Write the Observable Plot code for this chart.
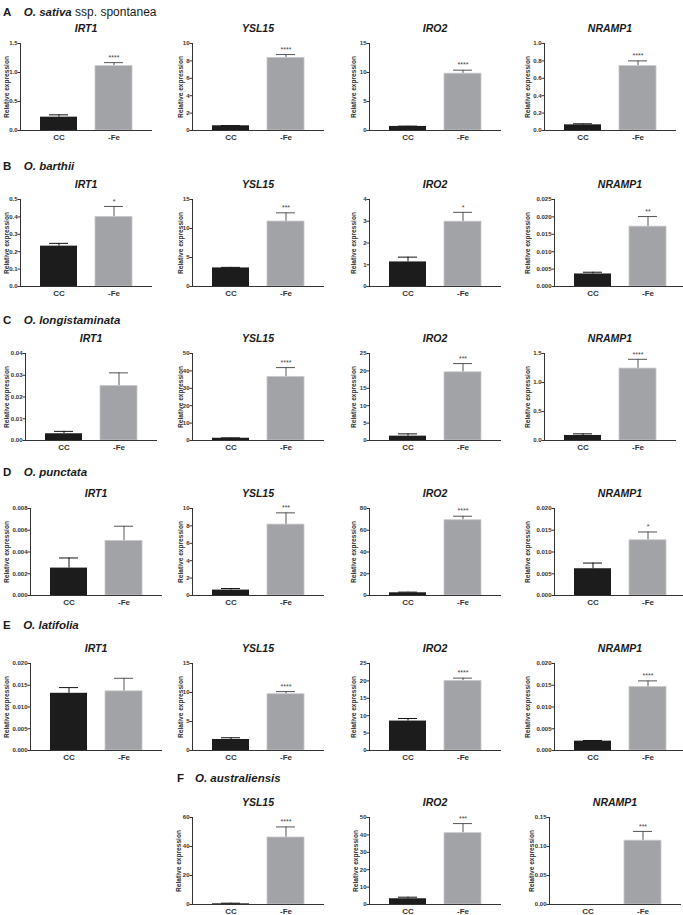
<!DOCTYPE html>
<html><head><meta charset="utf-8">
<script src="https://cdn.jsdelivr.net/npm/d3@7"></script>
<script src="https://cdn.jsdelivr.net/npm/@observablehq/plot@0.6"></script>
<style>
body{margin:0;background:#fff;}
#fig{position:relative;width:683px;height:915px;font-family:"Liberation Sans",Arial,sans-serif;color:#222;overflow:hidden;background:#fff}
.abs{position:absolute;white-space:nowrap}
</style></head><body><div id="fig"></div>
<script>
// ---------- DATA ----------
const rowLetters = ["A","B","C","D","E","F"];
const speciesNames = ["O. sativa","O. barthii","O. longistaminata","O. punctata","O. latifolia","O. australiensis"];
const speciesSuffix = [" ssp. spontanea","","","","",""];
const groups = ["CC","-Fe"];
const yLabel = "Relative expression";
const panelRow = [0,0,0,0, 1,1,1,1, 2,2,2,2, 3,3,3,3, 4,4,4,4, 5,5,5];
const panelCol = [0,1,2,3, 0,1,2,3, 0,1,2,3, 0,1,2,3, 0,1,2,3, 1,2,3];
const genes = ["IRT1","YSL15","IRO2","NRAMP1","IRT1","YSL15","IRO2","NRAMP1","IRT1","YSL15","IRO2","NRAMP1",
               "IRT1","YSL15","IRO2","NRAMP1","IRT1","YSL15","IRO2","NRAMP1","YSL15","IRO2","NRAMP1"];
const ccMean = [0.23,0.54,0.7,0.065, 0.232,3.2,1.13,0.0036, 0.0031,1.3,1.25,0.087, 0.00252,0.62,2.5,0.00615, 0.01315,1.9,8.46,0.00215, 0.46,3.3,0];
const ccErr  = [0.04,0.03,0.05,0.012, 0.016,0.1,0.22,0.0005, 0.0011,0.2,0.65,0.028, 0.00093,0.18,0.6,0.00131, 0.00131,0.3,0.74,0.00015, 0.44,0.9,0];
const feMean = [1.11,8.35,9.8,0.74, 0.40,11.2,2.98,0.0172, 0.0251,36.5,19.6,1.24, 0.00502,8.15,69.2,0.0127, 0.0136,9.7,20.0,0.0146, 46.2,41.0,0.110];
const feErr  = [0.06,0.38,0.6,0.06, 0.06,1.5,0.43,0.0029, 0.006,5.4,2.5,0.16, 0.00135,1.35,3.7,0.0019, 0.003,0.45,0.8,0.0014, 7.3,5.5,0.016];
const stars  = ["****","****","****","****","*","***","*","**","","****","***","****","","***","****","*","","****","****","****","****","***","***"];
const yMax   = [1.5,10,15,1.0, 0.5,15,4,0.025, 0.04,50,25,1.5, 0.008,10,80,0.020, 0.020,15,25,0.020, 60,50,0.15];
const yStep  = [0.5,2,5,0.2, 0.1,5,1,0.005, 0.01,10,5,0.5, 0.002,2,20,0.005, 0.005,5,5,0.005, 20,10,0.05];

// ---------- LAYOUT ----------
const colAxis = [20,192,369,544];
const colLabX = [6,179.5,353,527], colLabXF = [null,178,355,531];
const rowTop = [43,199,353,508,663,817];
const rowHead = [12,166,320,472,625,778];
const ML=30, MR=6, MT=12, MB=20, PW=132, PH=87;
const fontFam = '"Liberation Sans", Arial, sans-serif';

const fig = document.getElementById("fig");
function div(css, text) {
  const d = document.createElement("div"); d.className = "abs";
  Object.assign(d.style, css); if (text != null) d.textContent = text;
  fig.appendChild(d); return d;
}

// section headers
rowLetters.forEach((L, r) => {
  const hx = r === 5 ? 177 : 3;
  const h = div({left: hx + "px", top: (rowHead[r] - 7) + "px", fontSize: "11.5px", lineHeight: "14px", color: "#1a1a1a"});
  const b = document.createElement("b"); b.textContent = L; h.appendChild(b);
  const s = document.createElement("b"); s.textContent = speciesNames[r];
  s.style.fontStyle = "italic"; s.style.marginLeft = (r === 5 ? "11px" : "12.5px"); h.appendChild(s);
  if (speciesSuffix[r]) { const t = document.createElement("span"); t.textContent = speciesSuffix[r]; t.style.fontSize = "12px"; h.appendChild(t); }
});

genes.forEach((g, i) => {
  const r = panelRow[i], c = panelCol[i];
  const dec = (String(yStep[i]).split(".")[1] || "").length;
  const fmt = d3.format(`.${dec}f`);
  const ticks = d3.range(0, yMax[i] + yStep[i] / 2, yStep[i]);
  const labLen = fmt(yMax[i]).length;
  const axisX = colAxis[c] + Math.max(0, labLen - 3) * 5;
  const labX = r === 5 ? colLabXF[c] : colLabX[c];
  const top = rowTop[r];
  const data = groups.map((grp, k) => ({
    group: grp,
    mean: k ? feMean[i] : ccMean[i],
    err: k ? feErr[i] : ccErr[i],
    stars: k ? stars[i] : ""
  }));
  const errCol = d => d.group === "CC" ? "#111" : "#555";
  const svg = Plot.plot({
    width: ML + PW + MR, height: MT + PH + MB,
    marginLeft: ML, marginRight: MR, marginTop: MT, marginBottom: MB,
    style: {fontFamily: fontFam, fontWeight: "bold", fontSize: "6px", color: "#333", background: "transparent", overflow: "visible"},
    x: {type: "band", domain: groups, paddingInner: 0.32, paddingOuter: 0.34},
    y: {domain: [0, yMax[i]]},
    marks: [
      Plot.ruleX(data.filter(d => d.err > 0), {x: "group", y1: "mean", y2: d => d.mean + d.err, stroke: errCol, strokeWidth: 1}),
      Plot.tickY(data.filter(d => d.err > 0), {x: "group", y: d => d.mean + d.err, stroke: errCol, strokeWidth: 1, insetLeft: 9, insetRight: 9}),
      Plot.barY(data.filter(d => d.group === "CC"), {x: "group", y: "mean", fill: "#1c1c1c"}),
      Plot.barY(data.filter(d => d.group === "-Fe"), {x: "group", y: "mean", fill: "#a2a3a7", stroke: "#c9c9cb", strokeWidth: 0.8}),
      Plot.text(data.filter(d => d.stars), {x: "group", y: d => d.mean + d.err, text: "stars", dy: -5, fontSize: 7, fill: "#444", fontWeight: "normal"}),
      Plot.axisY({ticks, tickFormat: fmt, tickSize: 2.5, tickPadding: 0.5, label: null}),
      Plot.axisX({tickSize: 0, tickPadding: 4, fontSize: 8, label: null}),
      Plot.frame({anchor: "left", stroke: "#333"}),
      Plot.ruleY([0], {stroke: "#333"})
    ]
  });
  svg.style.position = "absolute";
  svg.style.left = (axisX - ML) + "px";
  svg.style.top = (top - MT) + "px";
  fig.appendChild(svg);

  // gene title
  div({left: (axisX + PW / 2) + "px", top: (top - 15) + "px", transform: "translate(-50%,-50%)",
       fontSize: "10.5px", fontWeight: "bold", fontStyle: "italic", color: "#1a1a1a"}, g);
  // y label
  div({left: labX + "px", top: (top + PH / 2) + "px", transform: "translate(-50%,-50%) rotate(-90deg)",
       fontSize: "6.6px", fontWeight: "bold", color: "#333"}, yLabel);
});
</script></body></html>
